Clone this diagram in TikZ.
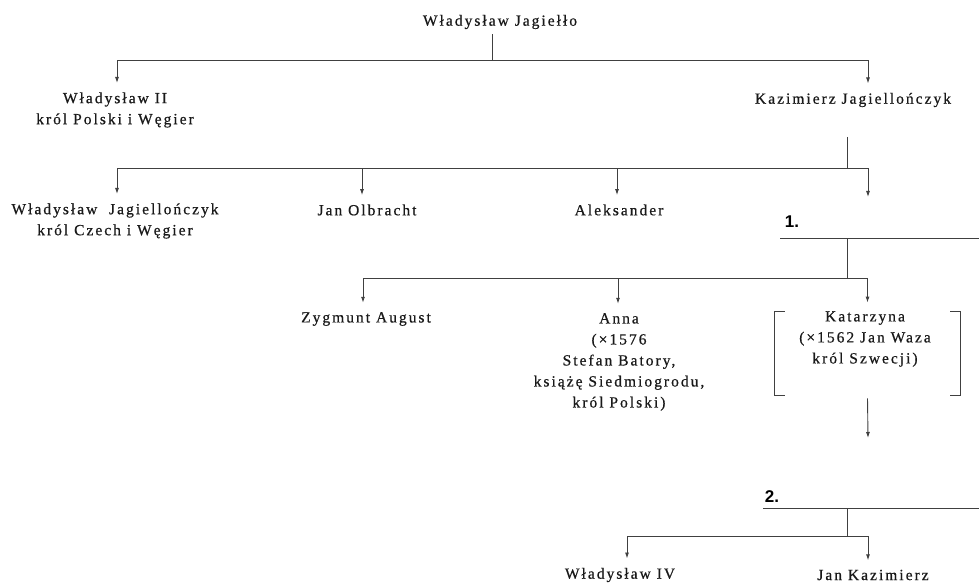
\documentclass[tikz,border=0pt]{standalone}
\usepackage{fontspec}
\setmainfont{Liberation Serif}[LetterSpace=13,FakeBold=0.6]
\newfontfamily\numfont{Liberation Sans}
\usetikzlibrary{arrows.meta,positioning}

\tikzset{
  person/.style={font=\fontsize{15.5}{21}\selectfont, align=center, inner sep=0pt, text=black!90},
  marr/.style={font=\numfont\bfseries\fontsize{17}{20}\selectfont, inner sep=0pt, text=black},
  arr/.style={-{Latex[length=6pt,width=4pt]}, shorten >=9pt}
}

\begin{document}
\begin{tikzpicture}[x=1pt,y=1pt,line width=0.9pt,color=black!75]
\useasboundingbox (0,0) rectangle (979,-588);
%draw persons
\node[person] (wj) at (500,-22) {Władysław Jagiełło};
\node[person] (w2) at (115,-110) {Władysław II\\król Polski i Węgier};
\node[person] (kj) at (853,-100) {Kazimierz Jagiellończyk};
\node[person] (wjc) at (115,-221) {Władysław\ \ Jagiellończyk\\król Czech i Węgier};
\node[person] (jo) at (367,-210) {Jan Olbracht};
\node[person] (al) at (619,-210) {Aleksander};
\node[person] (za) at (366,-319) {Zygmunt August};
\node[person] (an) at (619,-362) {Anna\\(×1576\\Stefan Batory,\\książę Siedmiogrodu,\\król Polski)};
\node[person] (ka) at (865,-339) {Katarzyna\\(×1562 Jan Waza\\król Szwecji)};
\node[person] (w4) at (620,-575) {Władysław IV};
\node[person] (jk) at (873,-575) {Jan Kazimierz};
%draw marriage numbers
\node[marr] (m1) at (792,-222) {1.};
\node[marr] (m2) at (772,-497) {2.};
%bar coordinates
\coordinate (b1) at (492,-60);
\coordinate (k0) at (847,-137);
\coordinate (b2) at (847,-168);
\coordinate (k4) at (868,-197);
\coordinate (l1a) at (780,-238);
\coordinate (l1b) at (979,-238);
\coordinate (b3) at (847,-278);
\coordinate (k2) at (868,-438);
\coordinate (l2a) at (763,-508);
\coordinate (l2b) at (979,-508);
\coordinate (b4) at (847,-536);
% bracket box round Katarzyna
\node[minimum width=185pt, minimum height=83pt, inner sep=0pt] (kbox) at (867.5,-353.5) {};
\draw (kbox.north west) ++(10,0) -- (kbox.north west) -- (kbox.south west) -- ++(10,0);
\draw (kbox.north east) ++(-10,0) -- (kbox.north east) -- (kbox.south east) -- ++(-10,0);
%first generation
\draw (b1 |- wj.south) ++(0,-5) -- (b1);
\draw[arr] (b1) -| ([xshift=2pt]w2.north);
\draw[arr] (b1) -| ([xshift=15pt]kj.north);
%second generation
\draw (k0) -- (b2);
\draw[arr] (b2) -| ([xshift=2pt]wjc.north);
\draw[arr] (b2) -| ([xshift=-5pt]jo.north);
\draw[arr] (b2) -| ([xshift=-2pt]al.north);
\draw[arr, shorten >=0pt] (b2) -| (k4);
%first marriage
\draw (l1a) -- (l1b);
\draw (b3 |- l1a) -- (b3);
\draw[arr] (b3) -| ([xshift=-3pt]za.north);
\draw[arr] (b3) -| ([xshift=-1pt]an.north);
\draw[arr] (b3) -| (kbox.north);
\draw[arr, shorten >=0pt] ([yshift=-3pt]kbox.south) -- (k2);
%second marriage
\draw (l2a) -- (l2b);
\draw (b4 |- l2a) -- (b4);
\draw[arr] (b4) -| ([xshift=7pt]w4.north);
\draw[arr] (b4) -| ([xshift=-5pt]jk.north);
\end{tikzpicture}
\end{document}
